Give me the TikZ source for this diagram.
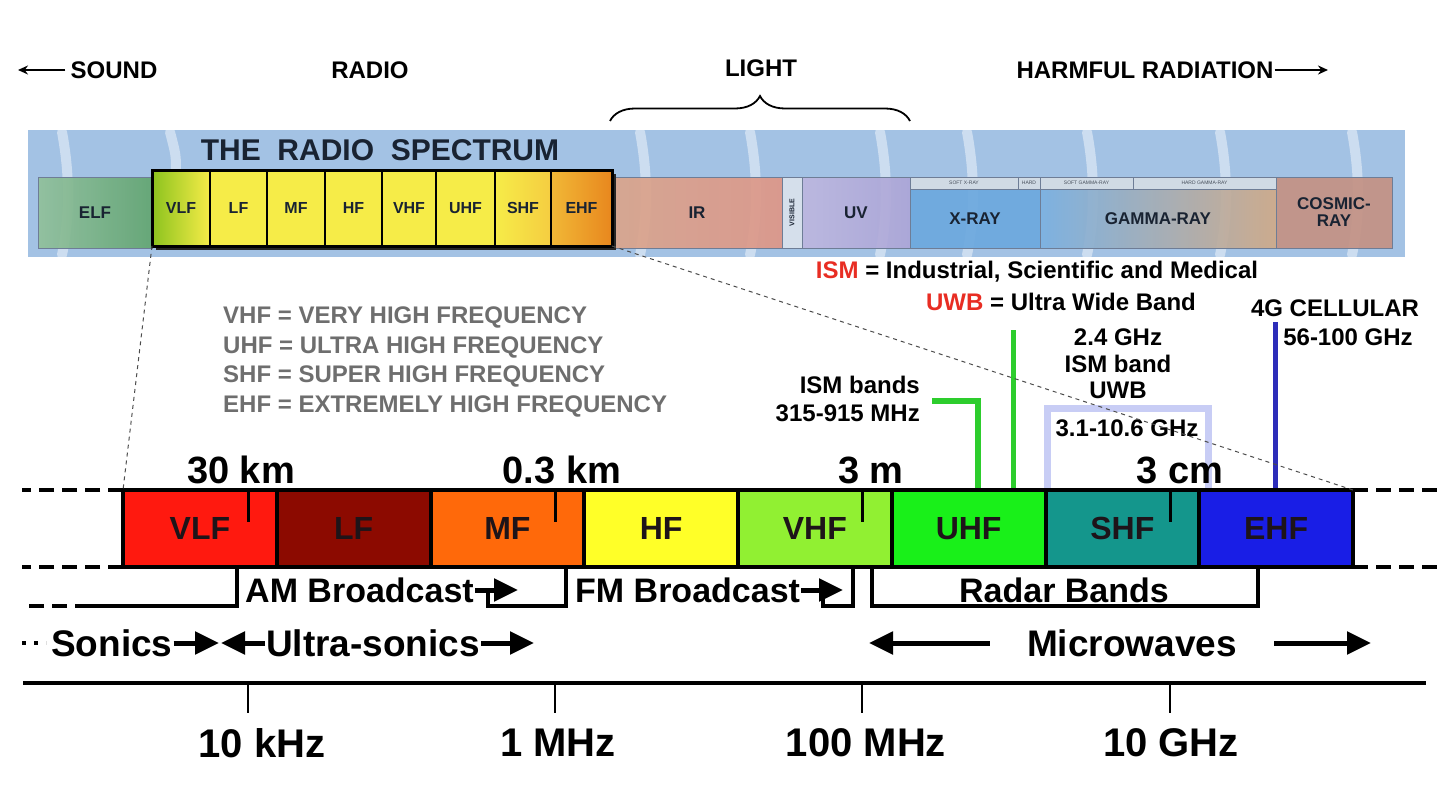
\documentclass[tikz,border=0pt]{standalone}
\usepackage{fontspec}
\setmainfont{Liberation Sans}
\usetikzlibrary{positioning,arrows.meta,decorations.pathreplacing}

\definecolor{bgblue}{RGB}{163,194,228}
\definecolor{stripedge}{RGB}{110,125,150}
\definecolor{labelink}{RGB}{25,35,50}
\definecolor{elfgreen}{RGB}{98,165,112}
\definecolor{radyellow}{RGB}{246,236,72}
\definecolor{vlfgreen}{RGB}{140,195,30}
\definecolor{shfyellow}{RGB}{245,205,65}
\definecolor{ehforange}{RGB}{232,135,30}
\definecolor{irpeach}{RGB}{218,165,140}
\definecolor{irrose}{RGB}{222,150,135}
\definecolor{visgrey}{RGB}{218,226,236}
\definecolor{uvlav}{RGB}{172,165,215}
\definecolor{xrayblue}{RGB}{108,168,222}
\definecolor{gammagreen}{RGB}{150,180,150}
\definecolor{gammatan}{RGB}{208,170,135}
\definecolor{cosmicrose}{RGB}{196,146,132}
\definecolor{subgrey}{RGB}{208,218,228}
\definecolor{bandink}{RGB}{30,20,25}
\definecolor{cVLF}{RGB}{255,25,15}
\definecolor{cLF}{RGB}{140,10,0}
\definecolor{cMF}{RGB}{255,105,10}
\definecolor{cHF}{RGB}{255,255,40}
\definecolor{cVHF}{RGB}{145,240,50}
\definecolor{cUHF}{RGB}{25,240,25}
\definecolor{cSHF}{RGB}{20,150,140}
\definecolor{cEHF}{RGB}{25,30,230}
\definecolor{ismgreen}{RGB}{45,205,45}
\definecolor{uwblav}{RGB}{200,205,245}
\definecolor{cellblue}{RGB}{45,45,185}
\definecolor{ismred}{RGB}{232,45,35}
\definecolor{notegrey}{RGB}{110,110,110}

\begin{document}
\begin{tikzpicture}[x=1pt, y=-1pt,
  every node/.style={font=\bfseries, inner sep=1pt},
  stripband/.style={draw=stripedge, line width=0.8pt, minimum height=71pt, inner sep=0pt, outer sep=0pt,
    fill opacity=0.92, text opacity=1, text=labelink, font=\fontsize{17}{19}\selectfont\bfseries},
  radiobox/.style={draw=black, line width=1.2pt, minimum height=76pt, inner sep=0pt, outer sep=0pt,
    text=labelink, font=\fontsize{16}{18}\selectfont\bfseries},
  subband/.style={draw=stripedge, line width=0.6pt, fill=subgrey, minimum height=12pt, inner sep=0pt,
    outer sep=0pt, text=labelink!80, font=\fontsize{5}{6}\selectfont},
  bandbox/.style={draw=black, line width=4pt, minimum width=153.75pt, minimum height=77pt, inner sep=0pt,
    outer sep=0pt, text=bandink, font=\fontsize{32}{36}\selectfont\bfseries},
  heading/.style={font=\fontsize{24}{28}\selectfont\bfseries},
  legend/.style={font=\fontsize{24}{29.5}\selectfont\bfseries},
  wavelabel/.style={font=\fontsize{38}{42}\selectfont\bfseries},
  freqlabel/.style={font=\fontsize{40}{44}\selectfont\bfseries},
  uselabel/.style={font=\fontsize{34}{38}\selectfont\bfseries},
  rangelabel/.style={font=\fontsize{37}{42}\selectfont\bfseries},
  thinarrow/.style={line width=2pt, -{Stealth[length=10pt,width=9pt]}},
  fatarrow/.style={line width=5pt, -{Triangle[length=24pt,width=22pt]}},
  bracketline/.style={line width=3.5pt},
  extdash/.style={line width=3.5pt, dash pattern=on 15pt off 8pt},
  streak/.style={white, line width=10pt, opacity=0.45, line cap=round},
  connector/.style={gray!60!black, line width=1pt, dash pattern=on 4pt off 4pt},
  markline/.style={line width=#1}
]
  \useasboundingbox (0,0) rectangle (1452,792);

  % Headings
  \node[heading] (sound) at (114,70) {SOUND};
  \coordinate (soundtip) at (18,70);
  \draw[thinarrow] ([xshift=-4pt]sound.west) -- (soundtip);
  \node[heading] (radio) at (370,70) {RADIO};
  \node[heading] (light) at (761,68) {LIGHT};
  \node[heading] (harm) at (1145,70) {HARMFUL RADIATION};
  \coordinate (harmtip) at (1328,70);
  \draw[thinarrow] (harm.east) -- (harmtip);
  \draw[line width=1.8pt, decorate, decoration={brace, amplitude=25pt}] (610,121) -- (910,121);

  % Spectrum strip
  \fill[bgblue] (28,130) rectangle (1405,257);
  \draw[streak] (62,132) .. controls (70,175) and (70,215) .. (62,255);
  \draw[streak] (170,132) .. controls (176,155) .. (176,172);
  \draw[streak] (640,132) .. controls (648,175) and (648,215) .. (640,255);
  \draw[streak] (750,132) .. controls (758,175) and (758,215) .. (750,255);
  \draw[streak] (880,132) .. controls (888,175) and (888,215) .. (880,255);
  \draw[streak] (967,132) .. controls (975,175) and (975,215) .. (967,255);
  \draw[streak] (1087,132) .. controls (1095,175) and (1095,215) .. (1087,255);
  \draw[streak] (1220,132) .. controls (1228,175) and (1228,215) .. (1220,255);
  \draw[streak] (1352,132) .. controls (1360,175) and (1360,215) .. (1352,255);

  \node[stripband, minimum width=114pt, left color=elfgreen!70!white, right color=elfgreen] (sELF) at (95,212.5) {ELF};
  \node[stripband, minimum width=170pt, left color=irpeach, right color=irrose] (sIR) at (697,212.5) {IR};
  \node[stripband, minimum width=20pt, fill=visgrey] (sVIS) at (792,212.5) {};
  \node[rotate=90, text=labelink, font=\fontsize{7}{8}\selectfont\bfseries] (visible) at (sVIS.center) {VISIBLE};
  \node[stripband, minimum width=108pt, left color=uvlav!80!white, right color=uvlav] (sUV) at (856,212.5) {UV};
  \node[stripband, minimum width=130pt, minimum height=59pt, fill=xrayblue] (sXR) at (975,218.5) {X-RAY};
  \node[stripband, minimum width=236pt, minimum height=59pt, left color=xrayblue!90!white, middle color=gammagreen, right color=gammatan] (sGR) at (1158,218.5) {GAMMA-RAY};
  \node[stripband, minimum width=116pt, fill=cosmicrose, align=center, font=\fontsize{17}{17}\selectfont\bfseries] (sCR) at (1334,212.5) {COSMIC-\\RAY};
  \node[subband, minimum width=108pt] (softx) at (964,183) {SOFT X-RAY};
  \node[subband, minimum width=22pt] (hardx) at (1029,183) {HARD};
  \node[subband, minimum width=93pt] (softg) at (1086.5,183) {SOFT GAMMA-RAY};
  \node[subband, minimum width=143pt] (hardg) at (1204.5,183) {HARD GAMMA-RAY};

  % The radio spectrum
  \node[text=labelink, font=\fontsize{30}{34}\selectfont\bfseries] (title) at (380,150) {THE~~RADIO~~SPECTRUM};
  \fill[black!85] (156,174) rectangle (616,250);
  \node[radiobox, minimum width=58pt, left color=vlfgreen, right color=radyellow] (rVLF) at (181,208) {VLF};
  \node[radiobox, minimum width=57pt, fill=radyellow] (rLF) at (238.5,208) {LF};
  \node[radiobox, minimum width=58pt, fill=radyellow] (rMF) at (296,208) {MF};
  \node[radiobox, minimum width=57pt, fill=radyellow] (rHF) at (353.5,208) {HF};
  \node[radiobox, minimum width=54pt, fill=radyellow] (rVHF) at (409,208) {VHF};
  \node[radiobox, minimum width=59pt, fill=radyellow] (rUHF) at (465.5,208) {UHF};
  \node[radiobox, minimum width=56pt, left color=radyellow, right color=shfyellow] (rSHF) at (523,208) {SHF};
  \node[radiobox, minimum width=61pt, left color=shfyellow!70!ehforange, right color=ehforange] (rEHF) at (581.5,208) {EHF};
  \draw[line width=3pt] (rVLF.north west) rectangle (rEHF.south east);

  % Notes
  \node[legend, text=notegrey, align=left, anchor=west] (notes) at (222,362)
    {VHF = VERY HIGH FREQUENCY\\UHF = ULTRA HIGH FREQUENCY\\SHF = SUPER HIGH FREQUENCY\\EHF = EXTREMELY HIGH FREQUENCY};
  \node[legend] (ismdef) at (1037,272) {\textcolor{ismred}{ISM} = Industrial, Scientific and Medical};
  \node[legend] (uwbdef) at (1061,302) {\textcolor{ismred}{UWB} = Ultra Wide Band};
  \node[legend] (cell) at (1335,308) {4G CELLULAR};
  \node[legend] (cellrange) at (1348,337) {56-100 GHz};
  \node[legend, align=center, font=\fontsize{24}{26.5}\selectfont\bfseries] (wifi) at (1118,364) {2.4 GHz\\ISM band\\UWB};
  \node[legend, align=right, anchor=east, font=\fontsize{24}{28}\selectfont\bfseries] (ismbands) at (921,399) {ISM bands\\315-915 MHz};
  \node[legend] (uwbrange) at (1127,428) {3.1-10.6 GHz};

  % Band markers
  \draw[ismgreen, markline=6pt] (932,401) -- (978,401) -- (978,492);
  \draw[ismgreen, markline=5pt] (1013,330) -- (1013,492);
  \draw[uwblav, markline=7pt] (1047,492) -- (1047,408) -- (1208,408) -- (1208,492);
  \draw[cellblue, markline=5pt] (1275,322) -- (1275,492);

  % Wavelengths
  \node[wavelabel] (w30km) at (241,470) {30 km};
  \node[wavelabel] (w03km) at (562,470) {0.3 km};
  \node[wavelabel] (w3m) at (871,470) {3 m};
  \node[wavelabel] (w3cm) at (1180,470) {3 cm};

  % Band bar
  \node[bandbox, fill=cVLF] (bVLF) at (199.875,528.5) {VLF};
  \node[bandbox, fill=cLF] (bLF) at (353.625,528.5) {LF};
  \node[bandbox, fill=cMF] (bMF) at (507.375,528.5) {MF};
  \node[bandbox, fill=cHF] (bHF) at (661.125,528.5) {HF};
  \node[bandbox, fill=cVHF] (bVHF) at (814.875,528.5) {VHF};
  \node[bandbox, fill=cUHF] (bUHF) at (968.625,528.5) {UHF};
  \node[bandbox, fill=cSHF] (bSHF) at (1122.375,528.5) {SHF};
  \node[bandbox, fill=cEHF] (bEHF) at (1276.125,528.5) {EHF};
  \draw[markline=3pt] (248,491) -- (248,522);
  \draw[markline=3pt] (555,491) -- (555,522);
  \draw[markline=3pt] (862,491) -- (862,522);
  \draw[markline=3pt] (1170,491) -- (1170,522);

  % Zoom lines
  \draw[connector] (rVLF.south west) -- (bVLF.north west);
  \draw[connector] (rEHF.south east) -- (bEHF.north east);

  % Extensions
  \draw[extdash] (bVLF.north west) -- (22,490);
  \draw[extdash] (bVLF.south west) -- (22,567);
  \draw[extdash] (bEHF.north east) -- (1440,490);
  \draw[extdash] (bEHF.south east) -- (1440,567);
  \draw[extdash] (90,606) -- (22,606);
  \draw[bracketline] (90,606) -- (237,606) -- (237,567);

  % Uses
  \node[uselabel, anchor=west] (amtxt) at (244,590) {AM Broadcast};
  \coordinate (amtip) at (518,590);
  \draw[bracketline] (488,590) -- (488,606) -- (566,606) -- (566,567);
  \draw[fatarrow] (amtxt.east) -- (amtip);
  \node[uselabel, anchor=west] (fmtxt) at (574,590) {FM Broadcast};
  \coordinate (fmtip) at (843,590);
  \draw[bracketline] (823,590) -- (823,606) -- (853,606) -- (853,567);
  \draw[fatarrow] (fmtxt.east) -- (fmtip);
  \node[uselabel] (radartxt) at (1064,590) {Radar Bands};
  \draw[bracketline] (872,567) -- (872,606) -- (1258,606) -- (1258,567);

  % Ranges
  \draw[line width=4pt, dash pattern=on 4pt off 8pt] (22,643) -- (46,643);
  \node[rangelabel, anchor=west] (sonics) at (50,643) {Sonics};
  \coordinate (sonictip) at (219,643);
  \draw[fatarrow] (sonics.east) -- (sonictip);
  \node[rangelabel, anchor=west] (ultra) at (265,643) {Ultra-sonics};
  \coordinate (ultratip) at (534,643);
  \draw[fatarrow] (ultra.west) -- (221,643);
  \draw[fatarrow] (ultra.east) -- (ultratip);
  \node[rangelabel] (micro) at (1132,643) {Microwaves};
  \coordinate (microleft) at (869,643);
  \coordinate (microright) at (1371,643);
  \draw[fatarrow] ([xshift=-36pt]micro.west) -- (microleft);
  \draw[fatarrow] ([xshift=36pt]micro.east) -- (microright);

  % Frequency axis
  \draw[line width=4.5pt] (23,683) -- (1426,683);
  \draw[markline=2.5pt] (248,683) -- (248,713);
  \draw[markline=2.5pt] (555,683) -- (555,713);
  \draw[markline=2.5pt] (862,683) -- (862,713);
  \draw[markline=2.5pt] (1170,683) -- (1170,713);
  \node[freqlabel] (f10k) at (262,743) {10 kHz};
  \node[freqlabel] (f1M) at (558,743) {1 MHz};
  \node[freqlabel] (f100M) at (866,743) {100 MHz};
  \node[freqlabel] (f10G) at (1171,743) {10 GHz};
\end{tikzpicture}
\end{document}
